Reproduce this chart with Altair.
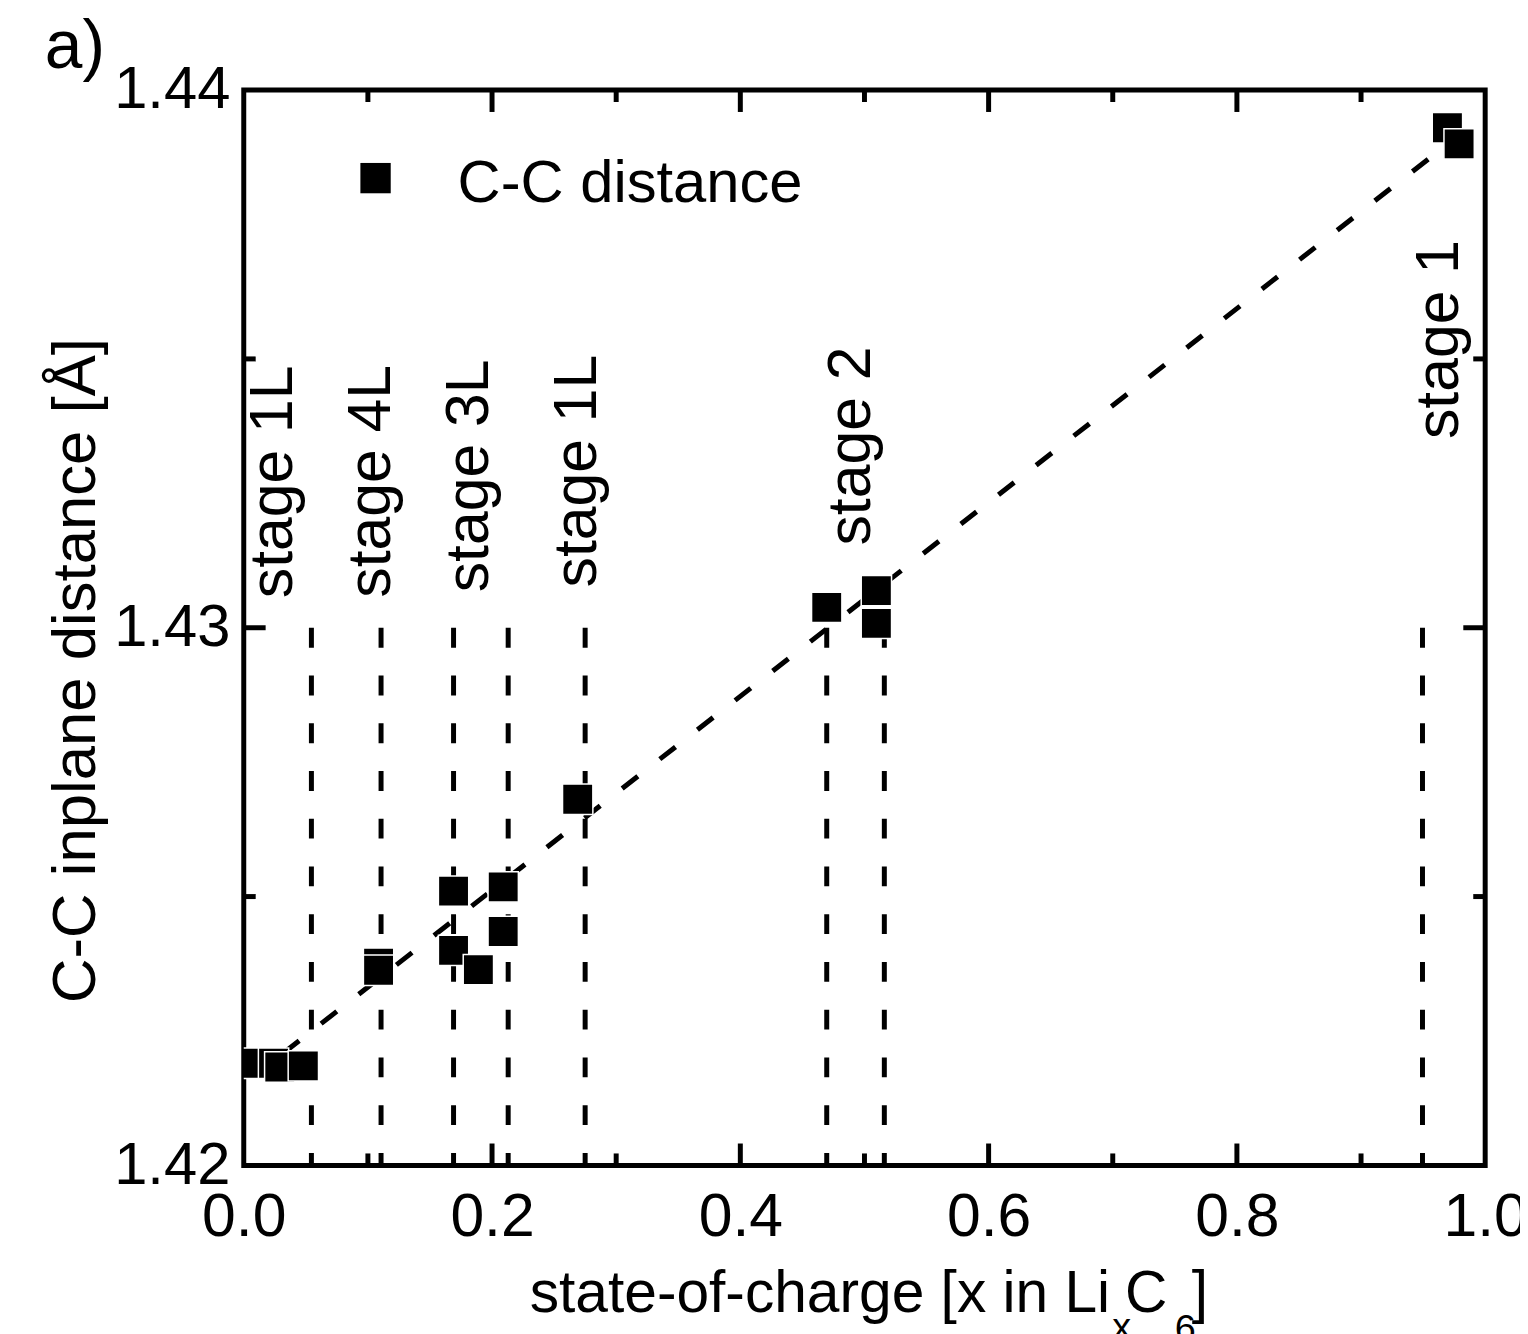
import altair as alt
import pandas as pd

# ---- data ----
soc = [0.0, 0.024, 0.029, 0.048, 0.1086, 0.1086, 0.169, 0.169, 0.189, 0.209, 0.209,
       0.269, 0.4696, 0.5096, 0.5096, 0.9696, 0.979]
cc = [1.4219, 1.4219, 1.42183, 1.42185, 1.42376, 1.42363, 1.4251, 1.4240, 1.42364,
      1.42518, 1.42435, 1.42681, 1.43038, 1.43069, 1.43008, 1.4393, 1.4390]

fit_soc = [0.032, 0.966]
fit_cc = [1.42209, 1.43893]

stage_soc = [0.0545, 0.1106, 0.169, 0.213, 0.275, 0.4696, 0.516, 0.9495]
stage_top = 1.43
stage_bottom = 1.42

label_text = ["stage 1L", "stage 4L", "stage 3L", "stage 1L", "stage 2", "stage 1"]
label_soc = [0.0385, 0.118, 0.197, 0.284, 0.5048, 0.978]
label_cc = [1.43055, 1.43056, 1.43066, 1.43075, 1.43153, 1.43351]

x_tick_labels = [0.0, 0.2, 0.4, 0.6, 0.8, 1.0]
y_tick_labels = [1.42, 1.43, 1.44]
x_ticks_major = [0.2, 0.4, 0.6, 0.8]
x_ticks_minor = [0.1, 0.3, 0.5, 0.7, 0.9]
y_ticks_major = [1.43]
y_ticks_minor = [1.425, 1.435]

W, H = 1248, 1081
FONT = "Liberation Sans, Arial, Helvetica, sans-serif"

xs = alt.Scale(domain=[0, 1], nice=False, zero=False)
ys = alt.Scale(domain=[1.42, 1.44], nice=False, zero=False)

df_pts = pd.DataFrame({"soc": soc, "cc": cc})
df_fit = pd.DataFrame({"soc": fit_soc, "cc": fit_cc})
df_stage = pd.DataFrame({"soc": stage_soc, "top": [stage_top] * len(stage_soc),
                         "bot": [stage_bottom] * len(stage_soc)})
df_lab = pd.DataFrame({"soc": label_soc, "cc": label_cc, "t": label_text})

base_axes = alt.Chart(df_pts).mark_point(opacity=0).encode(
    x=alt.X("soc:Q", scale=xs,
            axis=alt.Axis(values=x_tick_labels, format=".1f", ticks=False, domain=False,
                          grid=False, labelFontSize=61, labelPadding=22, title="",
                          labelColor="black", labelFlush=False, labelOverlap=False,
                          labelBound=False)),
    y=alt.Y("cc:Q", scale=ys,
            axis=alt.Axis(values=y_tick_labels, format=".2f", ticks=False, domain=False,
                          grid=False, labelFontSize=60, labelPadding=14,
                          labelColor="black", labelFlush=False, labelOverlap=False,
                          labelBound=False,
                          title="C-C inplane distance [Å]", titleFontSize=62,
                          titleFontWeight="normal", titleAngle=270, titleX=-150,
                          titleY=583, titleBaseline="alphabetic", titleAlign="center",
                          titleColor="black")),
)

stage_lines = alt.Chart(df_stage).mark_rule(color="black", strokeWidth=5,
                                            strokeDash=[20, 28]).encode(
    x=alt.X("soc:Q", scale=xs), y=alt.Y("top:Q", scale=ys), y2="bot:Q")

fit_line = alt.Chart(df_fit).mark_line(color="black", strokeWidth=5,
                                       strokeDash=[20, 28]).encode(
    x=alt.X("soc:Q", scale=xs), y=alt.Y("cc:Q", scale=ys))

points = alt.Chart(df_pts).mark_square(size=930, color="black", filled=True, opacity=1,
                                       stroke="white", strokeWidth=1.5, clip=True).encode(
    x=alt.X("soc:Q", scale=xs), y=alt.Y("cc:Q", scale=ys))

labels = alt.Chart(df_lab).mark_text(angle=270, align="left", baseline="alphabetic",
                                     fontSize=61, font=FONT, color="black").encode(
    x=alt.X("soc:Q", scale=xs), y=alt.Y("cc:Q", scale=ys), text="t:N")


def ticks(vals, orient, length):
    d = pd.DataFrame({"v": vals})
    c = alt.Chart(d).mark_rule(color="black", strokeWidth=5)
    if orient == "bottom":
        return c.encode(x=alt.X("v:Q", scale=xs), y=alt.value(H), y2=alt.value(H - length))
    if orient == "top":
        return c.encode(x=alt.X("v:Q", scale=xs), y=alt.value(0), y2=alt.value(length))
    if orient == "left":
        return c.encode(y=alt.Y("v:Q", scale=ys), x=alt.value(0), x2=alt.value(length))
    return c.encode(y=alt.Y("v:Q", scale=ys), x=alt.value(W), x2=alt.value(W - length))


tick_layers = [
    ticks(x_ticks_major, "bottom", 22), ticks(x_ticks_minor, "bottom", 12),
    ticks(x_ticks_major, "top", 22), ticks(x_ticks_minor, "top", 12),
    ticks(y_ticks_major, "left", 22), ticks(y_ticks_minor, "left", 12),
    ticks(y_ticks_major, "right", 22), ticks(y_ticks_minor, "right", 12),
]


def txt(s, x, y, size, align="left"):
    return alt.Chart(pd.DataFrame({"t": [s]})).mark_text(
        align=align, baseline="alphabetic", fontSize=size, font=FONT, color="black"
    ).encode(x=alt.value(x), y=alt.value(y), text="t:N")


legend_sq = alt.Chart(pd.DataFrame({"t": ["C-C distance"]})).mark_square(
    size=930, color="black", filled=True, opacity=1).encode(
    x=alt.value(132.5), y=alt.value(88.5))

texts = [
    txt("C-C distance", 215, 113, 60),
    txt("a)", -200, -22, 68),
    txt("state-of-charge [x in Li", 871, 1228, 59, align="right"),
    txt("x", 873, 1256, 38),
    txt("C", 886, 1228, 59),
    txt("6", 936, 1258, 38),
    txt("]", 953, 1228, 59),
]

chart = alt.layer(base_axes, stage_lines, fit_line, *tick_layers, points, labels,
                  legend_sq, *texts).properties(
    width=W, height=H,
    autosize=alt.AutoSizeParams(type="none"),
    padding={"left": 237, "top": 79, "right": 35, "bottom": 170},
).configure(font=FONT).configure_view(stroke="black", strokeWidth=5)

chart.save("out.html", embed_options={"renderer": "svg", "actions": False})
